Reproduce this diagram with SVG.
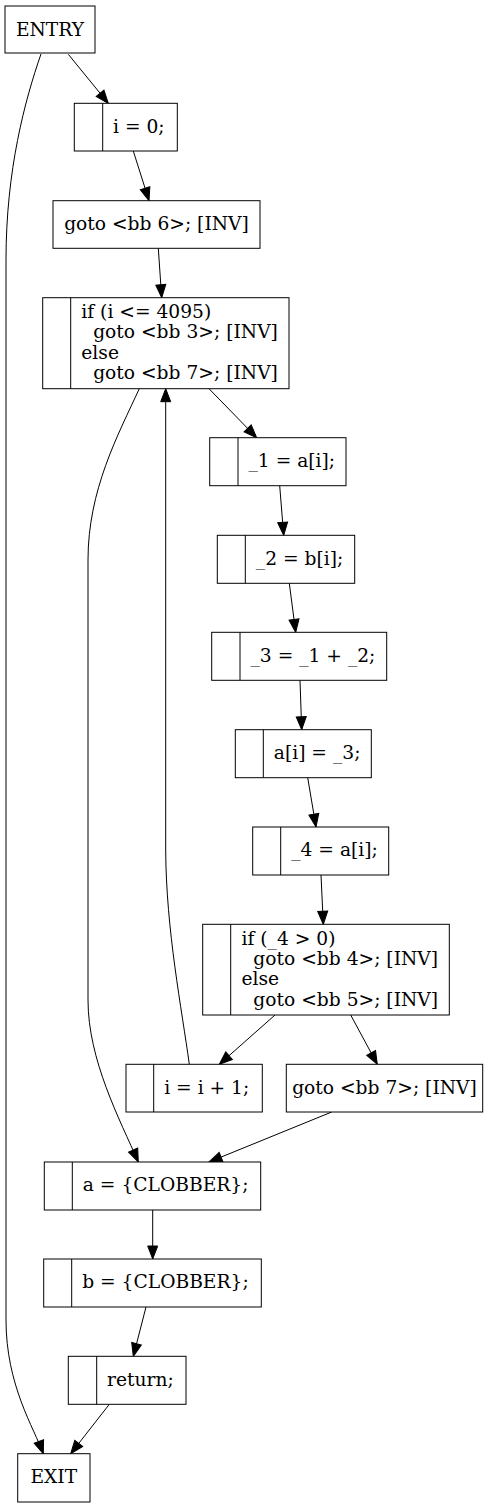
<svg xmlns="http://www.w3.org/2000/svg" width="499" height="1508" viewBox="0 0 499 1508">
<style>
.box{fill:#fff;stroke:#000;stroke-width:1}
.div{stroke:#000;stroke-width:1}
.t{font-family:"DejaVu Serif","Liberation Serif",serif;font-size:18.67px;fill:#000}
.c{text-anchor:middle}
.e{fill:none;stroke:#000;stroke-width:1;marker-end:url(#ah)}
</style>
<defs>
<marker id="ah" markerUnits="userSpaceOnUse" markerWidth="14" markerHeight="11" refX="13" refY="5" orient="auto" overflow="visible">
<path d="M0,0 L13,5 L0,10 z" fill="#000" stroke="#000" stroke-width="1"/>
</marker>
</defs>
<rect width="499" height="1508" fill="#fff"/>
<g id="edges">
<path class="e" d="M41,54 C25,100 6,170 6,260 L6,1320 C6,1385 34,1428 43.3,1453.7"/>
<path class="e" d="M68.3,54.3 L108.3,103.3"/>
<path class="e" d="M133.3,151 L149,200.7"/>
<path class="e" d="M158.3,248.3 L161.7,297.7"/>
<path class="e" d="M209,388.7 L256.7,437.7"/>
<path class="e" d="M139.3,388.7 C118,435 88,490 88,560 L88,1000 C88,1060 120,1120 138.3,1162"/>
<path class="e" d="M189.3,1064.3 C182,1010 166,930 165.7,850 L165.7,388.7"/>
<path class="e" d="M279.7,485.7 L283.7,535.3"/>
<path class="e" d="M289.3,583.3 L295.7,632.3"/>
<path class="e" d="M300,680.3 L301.7,729.7"/>
<path class="e" d="M307.7,777.7 L316,827"/>
<path class="e" d="M321,875 L323.3,924.3"/>
<path class="e" d="M275,1015 L219.3,1064.3"/>
<path class="e" d="M350.7,1015 L377.3,1064.3"/>
<path class="e" d="M331.7,1112 L209,1162"/>
<path class="e" d="M152.7,1210 L152.7,1259"/>
<path class="e" d="M146,1307 L133.3,1356.3"/>
<path class="e" d="M109.3,1404.3 L70.7,1453.7"/>
</g>
<g id="ENTRY">
<rect class="box" x="5" y="6" width="90" height="47"/>
<text class="t c" x="50" y="35.5">ENTRY</text>
</g>
<g id="bb2_i0">
<rect class="box" x="74.3" y="103.3" width="103" height="47.7"/>
<line class="div" x1="102.7" y1="103.3" x2="102.7" y2="151"/>
<text class="t" x="113" y="132.7">i = 0;</text>
</g>
<g id="bb2_goto">
<rect class="box" x="53" y="200.7" width="207" height="47.6"/>
<text class="t c" x="156.5" y="230">goto &lt;bb 6&gt;; [INV]</text>
</g>
<g id="bb6_if">
<rect class="box" x="42.7" y="297.7" width="246.3" height="91"/>
<line class="div" x1="70.7" y1="297.7" x2="70.7" y2="388.7"/>
<text class="t" x="81.3" y="318" xml:space="preserve">if (i &lt;= 4095)</text>
<text class="t" x="81.3" y="338.3" xml:space="preserve">  goto &lt;bb 3&gt;; [INV]</text>
<text class="t" x="81.3" y="358.6" xml:space="preserve">else</text>
<text class="t" x="81.3" y="378.9" xml:space="preserve">  goto &lt;bb 7&gt;; [INV]</text>
</g>
<g id="bb3_1">
<rect class="box" x="209.7" y="437.7" width="136.3" height="48"/>
<line class="div" x1="238" y1="437.7" x2="238" y2="485.7"/>
<text class="t" x="248.5" y="467">_1 = a[i];</text>
</g>
<g id="bb3_2">
<rect class="box" x="217.3" y="535.3" width="137.4" height="48"/>
<line class="div" x1="245.3" y1="535.3" x2="245.3" y2="583.3"/>
<text class="t" x="255.8" y="564.7">_2 = b[i];</text>
</g>
<g id="bb3_3">
<rect class="box" x="211.7" y="632.3" width="175" height="48"/>
<line class="div" x1="240" y1="632.3" x2="240" y2="680.3"/>
<text class="t" x="250.5" y="661.7">_3 = _1 + _2;</text>
</g>
<g id="bb3_4">
<rect class="box" x="235.3" y="729.7" width="136" height="48"/>
<line class="div" x1="263.3" y1="729.7" x2="263.3" y2="777.7"/>
<text class="t" x="273.8" y="759.1">a[i] = _3;</text>
</g>
<g id="bb3_5">
<rect class="box" x="252.7" y="827" width="136" height="48"/>
<line class="div" x1="280.7" y1="827" x2="280.7" y2="875"/>
<text class="t" x="291.2" y="856.4">_4 = a[i];</text>
</g>
<g id="bb3_if">
<rect class="box" x="202.7" y="924.3" width="246.6" height="90.7"/>
<line class="div" x1="230.7" y1="924.3" x2="230.7" y2="1015"/>
<text class="t" x="241.5" y="944.6" xml:space="preserve">if (_4 &gt; 0)</text>
<text class="t" x="241.5" y="964.9" xml:space="preserve">  goto &lt;bb 4&gt;; [INV]</text>
<text class="t" x="241.5" y="985.2" xml:space="preserve">else</text>
<text class="t" x="241.5" y="1005.5" xml:space="preserve">  goto &lt;bb 5&gt;; [INV]</text>
</g>
<g id="bb5">
<rect class="box" x="126" y="1064.3" width="136.3" height="47.7"/>
<line class="div" x1="153.7" y1="1064.3" x2="153.7" y2="1112"/>
<text class="t" x="164.2" y="1093.7">i = i + 1;</text>
</g>
<g id="bb4">
<rect class="box" x="286.3" y="1064.3" width="196.4" height="47.7"/>
<text class="t c" x="384.5" y="1093.7">goto &lt;bb 7&gt;; [INV]</text>
</g>
<g id="bb7_a">
<rect class="box" x="44.3" y="1162" width="216.4" height="48"/>
<line class="div" x1="72.3" y1="1162" x2="72.3" y2="1210"/>
<text class="t" x="82.8" y="1191.4">a = {CLOBBER};</text>
</g>
<g id="bb7_b">
<rect class="box" x="43.7" y="1259" width="217.6" height="48"/>
<line class="div" x1="71.7" y1="1259" x2="71.7" y2="1307"/>
<text class="t" x="82.2" y="1288.4">b = {CLOBBER};</text>
</g>
<g id="bb7_ret">
<rect class="box" x="68.3" y="1356.3" width="117.7" height="48"/>
<line class="div" x1="96.7" y1="1356.3" x2="96.7" y2="1404.3"/>
<text class="t" x="107" y="1385.7">return;</text>
</g>
<g id="EXIT">
<rect class="box" x="17.7" y="1453.7" width="72.3" height="48.3"/>
<text class="t c" x="53.8" y="1483">EXIT</text>
</g>
</svg>
